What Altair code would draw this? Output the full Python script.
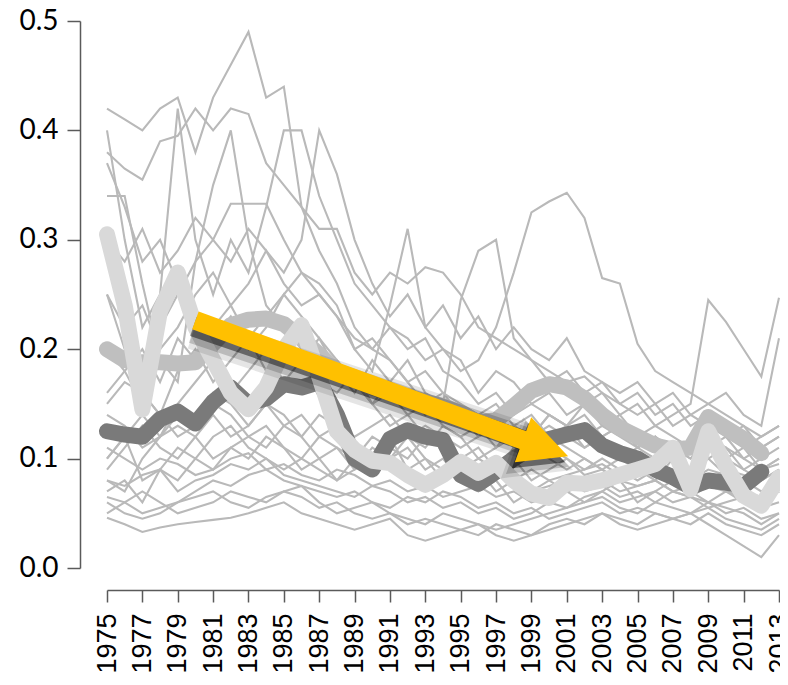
import altair as alt
import pandas as pd

years = list(range(1975, 2014))

# thin grey series (1975..2013)
s01 = [.42, .41, .40, .42, .43, .38, .43, .46, .49, .43,
       .44, .33, .29, .26, .22, .20, .19, .17, .15, .16,
       .14, .12, .13, .12, .11, .10, .09, .10, .09, .08,
       .085, .09, .08, .07, .08, .075, .07, .065, .07]
s02 = [.40, .30, .22, .25, .42, .30, .25, .30, .27, .33,
       .40, .40, .34, .30, .26, .24, .22, .20, .21, .18,
       .17, .15, .16, .14, .15, .14, .13, .12, .13, .12,
       .11, .10, .11, .10, .12, .11, .10, .09, .10]
s03 = [.38, .365, .355, .39, .395, .42, .40, .42, .415, .37,
       .35, .33, .31, .31, .27, .25, .27, .26, .275, .27,
       .25, .22, .21, .20, .19, .18, .17, .175, .16, .15,
       .14, .15, .13, .14, .13, .12, .11, .12, .13]
s04 = [.25, .22, .24, .20, .22, .25, .27, .24, .26, .29,
       .26, .24, .25, .23, .21, .20, .22, .21, .19, .20,
       .18, .19, .22, .27, .325, .335, .343, .32, .265, .26,
       .205, .18, .17, .16, .15, .14, .13, .12, .13]
s05 = [.16, .18, .20, .17, .21, .19, .22, .24, .21, .23,
       .25, .27, .26, .24, .20, .18, .24, .31, .22, .20,
       .19, .16, .18, .17, .15, .16, .14, .15, .13, .14,
       .12, .13, .12, .11, .12, .10, .09, .10, .11]
s06 = [.10, .12, .14, .12, .15, .17, .19, .16, .18, .20,
       .17, .19, .21, .18, .16, .19, .17, .19, .16, .15,
       .245, .29, .30, .21, .19, .17, .18, .16, .17, .15,
       .16, .14, .15, .13, .14, .12, .13, .11, .12]
s07 = [.07, .08, .06, .09, .08, .10, .09, .11, .10, .12,
       .11, .09, .10, .08, .09, .11, .10, .12, .11, .13,
       .12, .10, .11, .13, .12, .14, .13, .15, .16, .14,
       .15, .13, .14, .15, .245, .225, .20, .175, .247]
s08 = [.30, .28, .31, .27, .29, .32, .30, .28, .31, .29,
       .27, .30, .40, .36, .30, .26, .23, .25, .22, .24,
       .21, .23, .20, .22, .20, .19, .21, .18, .17, .16,
       .17, .15, .16, .14, .15, .16, .14, .13, .21]
s09 = [.20, .18, .15, .22, .25, .28, .30, .333, .333, .333,
       .30, .27, .25, .23, .20, .21, .19, .17, .18, .16,
       .15, .14, .15, .13, .12, .14, .13, .11, .12, .10,
       .11, .12, .10, .09, .10, .11, .09, .08, .09]
s10 = [.34, .34, .26, .19, .17, .28, .35, .40, .30, .24,
       .22, .20, .18, .19, .17, .15, .16, .14, .15, .13,
       .12, .13, .11, .12, .10, .11, .10, .09, .10, .09,
       .08, .09, .085, .08, .09, .085, .08, .07, .08]
s11 = [.046, .04, .033, .037, .04, .042, .044, .046, .05, .055,
       .06, .05, .045, .04, .035, .04, .045, .03, .025, .03,
       .035, .04, .03, .025, .03, .035, .04, .045, .05, .04,
       .035, .04, .045, .05, .04, .03, .02, .01, .03]
s12 = [.065, .06, .05, .055, .06, .065, .07, .06, .055, .065,
       .07, .075, .06, .05, .055, .06, .05, .045, .04, .05,
       .045, .04, .035, .04, .045, .05, .055, .06, .065, .055,
       .05, .06, .055, .05, .06, .055, .05, .04, .05]
s13 = [.08, .075, .085, .09, .07, .08, .085, .095, .09, .10,
       .085, .08, .075, .07, .065, .075, .07, .06, .065, .055,
       .06, .05, .055, .045, .05, .06, .055, .065, .07, .06,
       .065, .07, .06, .065, .055, .06, .065, .055, .06]
s14 = [.11, .10, .09, .10, .095, .085, .09, .10, .105, .09,
       .095, .085, .08, .09, .085, .075, .08, .07, .075, .065,
       .07, .075, .065, .07, .06, .065, .07, .075, .08, .07,
       .075, .08, .07, .065, .075, .07, .06, .065, .07]
s15 = [.14, .13, .11, .12, .13, .12, .10, .11, .12, .13,
       .11, .10, .12, .11, .10, .09, .10, .11, .09, .10,
       .08, .09, .10, .08, .09, .08, .085, .09, .095, .085,
       .09, .10, .085, .09, .10, .085, .08, .09, .095]
s16 = [.25, .20, .16, .14, .12, .13, .15, .14, .12, .11,
       .13, .12, .10, .11, .09, .10, .11, .12, .10, .09,
       .08, .09, .07, .08, .07, .075, .08, .07, .075, .065,
       .07, .06, .07, .065, .06, .07, .065, .06, .07]
s17 = [.06, .05, .045, .05, .06, .07, .08, .075, .085, .09,
       .08, .075, .07, .065, .07, .06, .055, .065, .06, .07,
       .065, .055, .06, .05, .055, .045, .05, .055, .06, .05,
       .055, .05, .045, .05, .055, .045, .04, .035, .045]
s18 = [.10, .12, .08, .09, .11, .10, .12, .13, .11, .10,
       .09, .10, .09, .08, .10, .12, .11, .10, .12, .11,
       .09, .10, .09, .11, .10, .12, .11, .10, .09, .10,
       .09, .08, .10, .09, .08, .09, .085, .08, .09]
s19 = [.08, .07, .10, .12, .14, .13, .16, .15, .13, .15,
       .14, .12, .14, .13, .12, .13, .14, .12, .13, .12,
       .11, .12, .13, .11, .12, .13, .12, .11, .12, .13,
       .11, .12, .11, .10, .11, .12, .10, .11, .12]
s20 = [.05, .06, .07, .06, .05, .055, .06, .07, .065, .06,
       .07, .065, .055, .06, .05, .045, .05, .04, .045, .04,
       .035, .03, .04, .035, .03, .04, .045, .04, .05, .045,
       .04, .05, .045, .04, .05, .04, .035, .03, .04]
s21 = [.15, .17, .16, .14, .18, .20, .17, .19, .21, .18,
       .20, .19, .17, .16, .18, .15, .17, .16, .14, .15,
       .13, .14, .12, .13, .14, .12, .13, .14, .12, .13,
       .11, .12, .10, .11, .12, .10, .11, .09, .10]
s22 = [.09, .11, .13, .11, .10, .12, .14, .12, .13, .15,
       .13, .14, .12, .13, .11, .10, .12, .09, .10, .08,
       .09, .07, .08, .06, .07, .08, .07, .06, .07, .08,
       .06, .07, .08, .07, .06, .05, .055, .045, .05]
s23 = [.37, .33, .28, .30, .26, .23, .21, .23, .20, .22,
       .25, .23, .21, .19, .17, .15, .13, .14, .12, .11,
       .10, .11, .09, .10, .08, .09, .10, .085, .09, .08,
       .075, .08, .07, .075, .08, .07, .065, .06, .07]

thin_series = [s01, s02, s03, s04, s05, s06, s07, s08, s09, s10, s11, s12,
               s13, s14, s15, s16, s17, s18, s19, s20, s21, s22, s23]

# highlighted thick series
dark_line = [.125, .122, .12, .136, .143, .132, .152, .165, .15, .155,
             .168, .165, .17, .14, .10, .09, .118, .126, .12, .117,
             .085, .077, .088, .10, .11, .118, .122, .126, .112, .105,
             .10, .09, .083, .074, .08, .078, .075, .088, None]
medium_line = [.20, .19, .188, .188, .187, .188, .205, .222, .227, .228,
               .223, .21, .195, .18, .172, .165, .16, .157, .152, .148,
               .142, .133, .135, .148, .162, .168, .165, .155, .14, .128,
               .12, .112, .108, .11, .138, .128, .118, .105, None]
light_line = [.305, .24, .145, .235, .27, .22, .19, .16, .145, .165,
              .20, .222, .175, .125, .108, .098, .096, .085, .076, .085,
              .097, .087, .096, .08, .068, .064, .078, .077, .08, .085,
              .09, .095, .11, .072, .125, .093, .066, .057, .083]

# annotation arrow (data units)
arrow_start = (1980.0, 0.2263)
arrow_end = (1999.0, 0.1142)
arrow_head = (1999.8, 0.1097)

tick_years = list(range(1975, 2014, 2))
y_ticks = [0.0, 0.1, 0.2, 0.3, 0.4, 0.5]

for s in thin_series + [dark_line, medium_line, light_line]:
    assert len(s) == len(years), len(s)

thin_rows = []
for i, s in enumerate(thin_series):
    for yr, v in zip(years, s):
        thin_rows.append({"year": yr, "value": v, "series": f"s{i+1:02d}"})
thin_df = pd.DataFrame(thin_rows)


def thick_df(vals):
    return pd.DataFrame([{"year": yr, "value": v} for yr, v in zip(years, vals) if v is not None])


axis_col = "#5a5a5a"
x_scale = alt.Scale(domain=[1975, 2013], nice=False, zero=False)
y_scale = alt.Scale(domain=[0, 0.5], nice=False, zero=False)

x_axis = alt.Axis(values=tick_years, format="d", labelAngle=270, offset=22, tickSize=12,
                  labelPadding=11, labelFont="Liberation Sans", labelFontSize=27,
                  labelColor="black", domainColor=axis_col, tickColor=axis_col,
                  domainWidth=1.5, tickWidth=1.5, grid=False, title=None,
                  labelOverlap=False, labelFlush=False, labelBound=False)
y_axis = alt.Axis(values=y_ticks, format=".1f", offset=27, tickSize=13, labelPadding=9,
                  labelFont="Lato", labelFontSize=28, labelColor="black",
                  domainColor=axis_col, tickColor=axis_col, domainWidth=1.5, tickWidth=1.5,
                  grid=False, title=None, labelOverlap=False, labelFlush=False, labelBound=False)

X = alt.X("year:Q", scale=x_scale, axis=x_axis)
Y = alt.Y("value:Q", scale=y_scale, axis=y_axis)

thin = alt.Chart(thin_df).mark_line(color="#b9b9b9", strokeWidth=2.1, clip=False).encode(
    x=X, y=Y, detail="series:N")


def thick(vals, color):
    return alt.Chart(thick_df(vals)).mark_line(
        color=color, strokeWidth=16, strokeCap="round", strokeJoin="round", clip=False
    ).encode(x=X, y=Y)


medium = thick(medium_line, "#bfbfbf")
dark = thick(dark_line, "#7a7a7a")
light = thick(light_line, "#d9d9d9")

arrow_df = pd.DataFrame([{"x": arrow_start[0], "y": arrow_start[1],
                          "x2": arrow_end[0], "y2": arrow_end[1]}])
head_df = pd.DataFrame([{"x": arrow_head[0], "y": arrow_head[1]}])

AX = alt.X("x:Q", scale=x_scale, axis=x_axis)
AY = alt.Y("y:Q", scale=y_scale, axis=y_axis)

shadows = []
for w, op, off in [(36, 0.10, 11), (28, 0.18, 9), (20, 0.45, 6)]:
    shadows.append(alt.Chart(arrow_df).mark_rule(
        color="black", strokeWidth=w, opacity=op, strokeCap="butt", yOffset=off, xOffset=-2
    ).encode(x=AX, y=AY, x2="x2:Q", y2="y2:Q"))
    shadows.append(alt.Chart(head_df).mark_point(
        shape="M -1 -1 L 1 0 L -1 1 Z", filled=True, color="black", opacity=op,
        size=2304 + (w - 20) * 120, angle=20, strokeWidth=0, yOffset=off, xOffset=-3
    ).encode(x=AX, y=AY))

shaft = alt.Chart(arrow_df).mark_rule(color="#FFC000", strokeWidth=19, strokeCap="butt").encode(
    x=AX, y=AY, x2="x2:Q", y2="y2:Q")
head = alt.Chart(head_df).mark_point(
    shape="M -1 -1 L 1 0 L -1 1 Z", filled=True, color="#FFC000", opacity=1,
    size=2304, angle=20, strokeWidth=0).encode(x=AX, y=AY)

chart = alt.layer(thin, medium, dark, light, *shadows, shaft, head).properties(
    width=672, height=547,
    autosize=alt.AutoSizeParams(type="none"),
    padding={"left": 99, "top": 13, "right": 1, "bottom": 109},
).configure_view(stroke=None)

chart.save("out.html", embed_options={"renderer": "svg", "actions": False})
